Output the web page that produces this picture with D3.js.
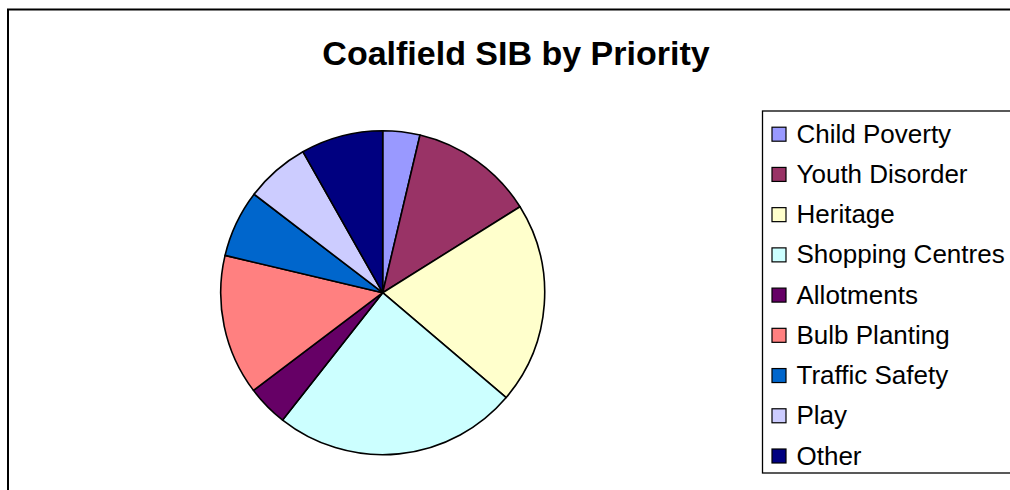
<!DOCTYPE html>
<html><head><meta charset="utf-8">
<script src="https://cdn.jsdelivr.net/npm/d3@7"></script>
<style>body{margin:0;background:#fff;overflow:hidden}svg{display:block}</style>
</head><body>
<svg id="c" width="1010" height="490"></svg>
<script>
const categories = ["Child Poverty","Youth Disorder","Heritage","Shopping Centres","Allotments","Bulb Planting","Traffic Safety","Play","Other"];
const values = [3.7, 12.4, 20.1, 24.4, 4.1, 14.0, 6.7, 6.4, 8.2];
const colors = ["#9999FF","#993366","#FFFFCC","#CCFFFF","#660066","#FF8080","#0066CC","#CCCCFF","#000080"];
const title = "Coalfield SIB by Priority";

const svg = d3.select("#c");
const font = "'Liberation Sans', Arial, sans-serif";

// outer frame
svg.append("rect").attr("x",8).attr("y",9.5).attr("width",1020).attr("height",500)
  .attr("fill","#fff").attr("stroke","#000").attr("stroke-width",2);

svg.append("text").attr("x",516).attr("y",65).attr("text-anchor","middle")
  .attr("font-family",font).attr("font-weight","bold").attr("font-size",34)
  .text(title);

const cx = 382.7, cy = 292.7, r = 162;
const pie = d3.pie().sort(null).value(d => d)(values);
const arc = d3.arc().innerRadius(0).outerRadius(r);
const color = d3.scaleOrdinal().domain(categories).range(colors);
svg.append("g").attr("transform",`translate(${cx},${cy})`)
  .selectAll("path").data(pie).join("path")
  .attr("d",arc).attr("fill",(d,i)=>color(categories[i]))
  .attr("stroke","#000").attr("stroke-width",1.6).attr("stroke-linejoin","round");

// legend
svg.append("rect").attr("x",762.5).attr("y",111).attr("width",300).attr("height",362)
  .attr("fill","#fff").attr("stroke","#000").attr("stroke-width",1.3);
const y = d3.scalePoint().domain(categories).range([134.2,456]);
const lg = svg.append("g").selectAll("g").data(categories).join("g")
  .attr("transform",d=>`translate(0,${y(d)})`);
lg.append("rect").attr("x",772).attr("y",-7).attr("width",14).attr("height",14)
  .attr("fill",d=>color(d)).attr("stroke","#000").attr("stroke-width",1.2);
lg.append("text").attr("x",796.5).attr("y",8.5).attr("font-family",font).attr("font-size",26)
  .attr("fill","#000").text(d=>d);
</script>
</body></html>
